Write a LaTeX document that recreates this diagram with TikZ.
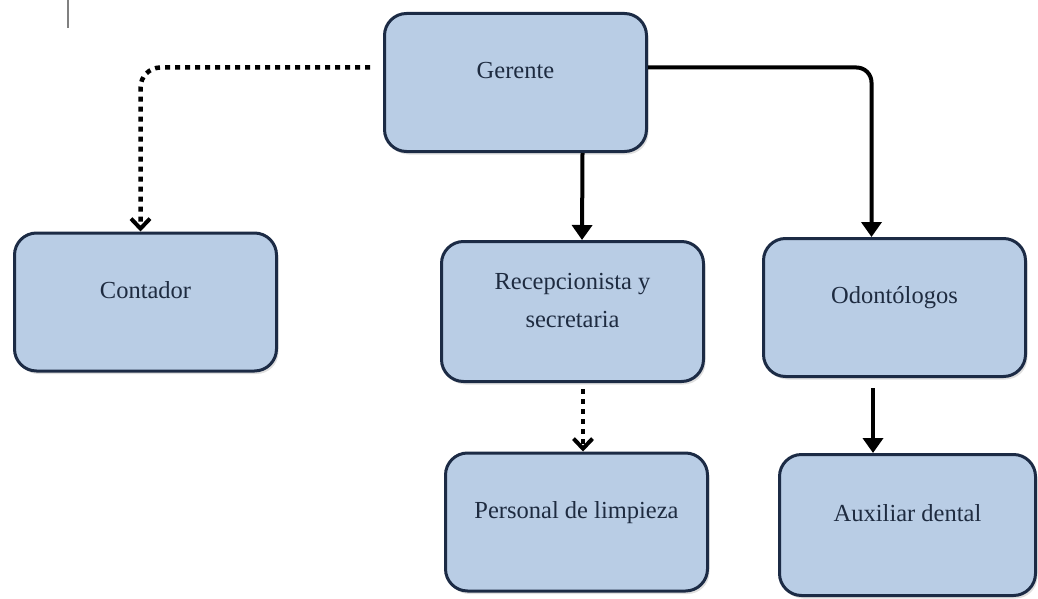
\documentclass[tikz,border=0pt]{standalone}
\usepackage{fontspec}
\setmainfont{Liberation Serif}
\usetikzlibrary{arrows.meta,shadows,calc}
\definecolor{boxfill}{HTML}{B9CDE5}
\definecolor{boxline}{HTML}{1C2B45}
\definecolor{txtc}{HTML}{1E2B40}
\tikzset{
  orgbox/.style={draw=boxline, line width=3pt, fill=boxfill, rounded corners=22pt,
    minimum width=262pt, minimum height=138pt, inner sep=0pt,
    font=\fontsize{24.5}{29}\selectfont, text=txtc, text height=17pt, text depth=25pt,
    drop shadow={shadow xshift=2pt, shadow yshift=-3pt, opacity=0.25}},
  solidlink/.style={line width=4pt, -{Triangle[width=20pt,length=15pt]}},
  dotlink/.style={line width=4.5pt, dash pattern=on 5pt off 5pt,
    -{Straight Barb[width=19pt,length=10pt,line width=4pt]}},
}
\begin{document}
\begin{tikzpicture}[x=1pt,y=-1pt]
\useasboundingbox (0,0) rectangle (1038,599);
% small mark at the top left
\draw[gray, line width=1.5pt] (68,0) -- (68,28);
% positions
\node[orgbox, minimum height=138pt] (g) at (515.5,82.5) {Gerente};
\node[orgbox] (c) at (145.5,302) {Contador};
\node[orgbox, minimum height=140pt, text height=40pt, text depth=9pt] (r) at (572.5,311.5)
  {\begin{tabular}[b]{@{}c@{}}Recepcionista y\\[9pt]secretaria\end{tabular}};
\node[orgbox] (o) at (894.5,307.5) {Odontólogos};
\node[orgbox] (p) at (576.5,522) {Personal de limpieza};
\node[orgbox, minimum width=256pt, minimum height=141pt] (a) at (907.5,525) {Auxiliar dental};
% connectors
\draw[dotlink, rounded corners=20pt] ($(g.west)+(-13,-15)$) -| ($(c.north)+(-5,0)$);
\draw[solidlink, rounded corners=15pt] ($(g.east)+(0,-15)$) -| ($(o.north)+(-23,0)$);
\draw[solidlink] ($(g.south)+(67,0)$) -- ($(r.north)+(9.5,0)$);
\draw[dotlink] ($(r.south)+(10.5,6)$) -- ($(p.north)+(6.5,0)$);
\draw[solidlink] ($(o.south)+(-21.5,10)$) -- ($(a.north)+(-34.5,0)$);
\end{tikzpicture}
\end{document}
